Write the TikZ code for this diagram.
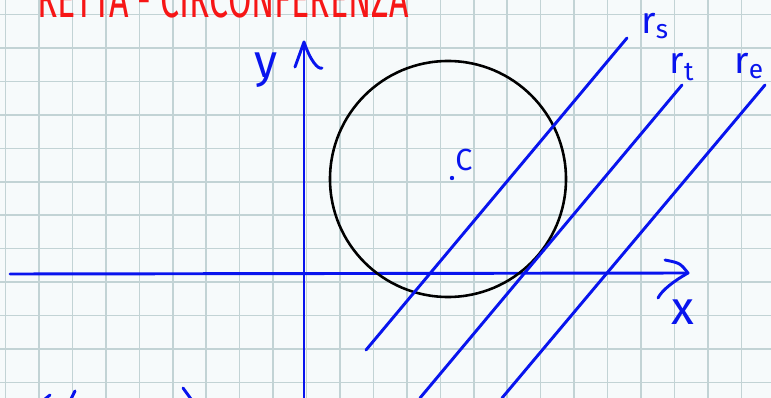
\documentclass[tikz,border=0pt]{standalone}
\usepackage{fontspec}
\setsansfont{Fira Sans}
\definecolor{penblue}{RGB}{8,20,238}
\definecolor{penred}{RGB}{246,22,22}
\definecolor{gridline}{RGB}{194,211,213}
\definecolor{paper}{RGB}{246,250,251}
\begin{document}
\begin{tikzpicture}[x=0.03cm,y=-0.03cm,
  pen/.style={penblue,line width=2.5pt,line cap=round,line join=round},
  hand/.style={penblue,inner sep=0pt,font=\sffamily\fontsize{32}{32}\selectfont}]
  \useasboundingbox (0,0) rectangle (771,398);
  \clip (0,0) rectangle (771,398);
  \fill[paper] (0,0) rectangle (771,398);
  \foreach \k in {0,...,22} \draw[gridline,line width=1.3pt] (5.5+33.45*\k,0) -- (5.5+33.45*\k,398);
  \foreach \k in {0,...,11} \draw[gridline,line width=1.3pt] (0,14.5+33.45*\k) -- (771,14.5+33.45*\k);
  \node[penred,inner sep=0pt,anchor=base west,xscale=0.63,transform shape,
    font=\sffamily\fontsize{46}{46}\selectfont] (title) at (37,18) {RETTA - CIRCONFERENZA};
  % axes
  \coordinate (xl) at (10,274);
  \coordinate (xr) at (688,273);
  \coordinate (yb) at (304,398);
  \coordinate (yt) at (304,42);
  \draw[pen] (xl) -- (xr);
  \draw[pen] (665,260) .. controls (680,263) .. (xr) .. controls (674,281) and (662,290) .. (658,298);
  \draw[pen] (yb) -- (yt);
  \draw[pen] (295,67) -- (yt) .. controls (310,60) and (318,70) .. (322,68);
  \node[hand,font=\sffamily\fontsize{40}{40}\selectfont] (xlab) at (683,312) {x};
  \node[hand,font=\sffamily\fontsize{40}{40}\selectfont] (ylab) at (266,70) {y};
  % circle
  \coordinate (cen) at (448,179);
  \draw[black,line width=2.2pt] (cen) circle (118);
  \fill[penblue] (452,178) circle (2.2);
  \node[hand,font=\sffamily\fontsize{26}{26}\selectfont] (clab) at (464,160) {C};
  % lines
  \coordinate (rsa) at (366,350);
  \coordinate (rsb) at (627,38);
  \coordinate (rta) at (420,398);
  \coordinate (rtb) at (682,85);
  \coordinate (rea) at (502,398);
  \coordinate (reb) at (765,85);
  \draw[pen] (rsa) -- (rsb);
  \draw[pen] (rta) -- (rtb);
  \draw[pen] (rea) -- (reb);
  \node[hand] (rslab) at (655,26) {r\textsubscript{s}};
  \node[hand] (rtlab) at (682,67) {r\textsubscript{t}};
  \node[hand] (relab) at (749,66) {r\textsubscript{e}};
  % bottom edge
  \draw[pen] (45,399) -- (50,395);
  \draw[pen] (71,399) -- (75,391);
  \draw[pen] (183,388) -- (191,399);
\end{tikzpicture}
\end{document}
